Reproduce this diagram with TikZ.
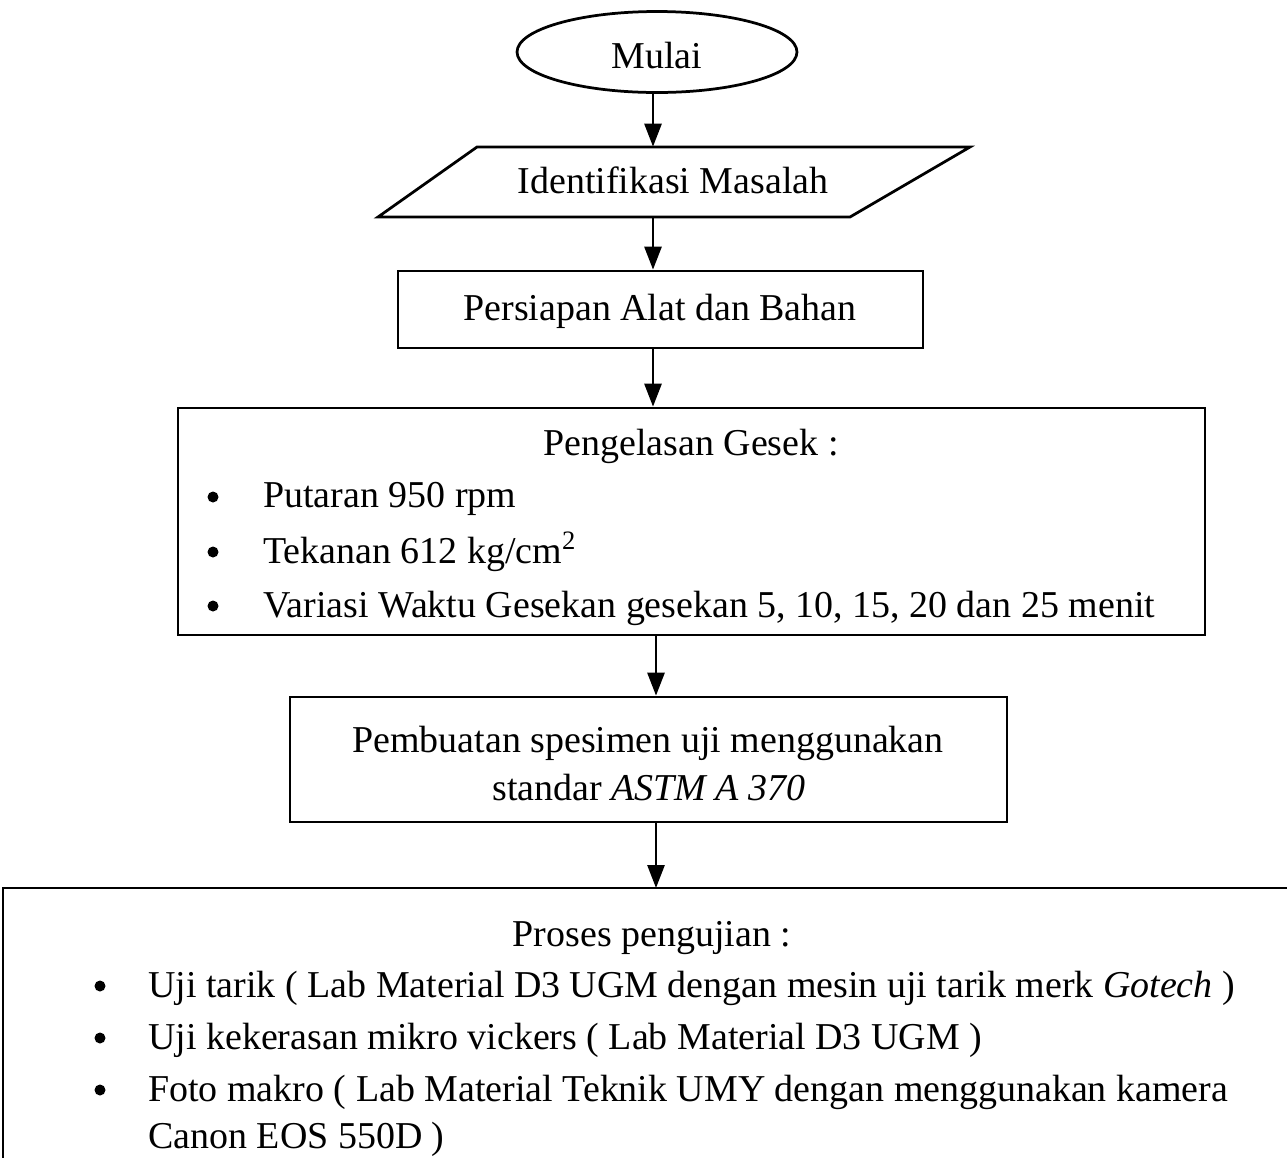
\documentclass[tikz,border=0pt]{standalone}
\usepackage{fontspec}
\setmainfont{Liberation Serif}
\usetikzlibrary{shapes.geometric,arrows.meta}
\tikzset{
  lw/.style={line width=0.055cm},
  flowbox/.style={draw,lw,inner sep=0pt},
  txt/.style={anchor=base,inner sep=0pt,font=\fontsize{21.6}{26}\selectfont},
  ltxt/.style={txt,anchor=base west},
  bul/.style={circle,fill,inner sep=0pt,minimum size=0.22cm},
  arr/.style={lw,-{Triangle[length=0.46cm,width=0.34cm]}}
}
\begin{document}
\begin{tikzpicture}[x=0.02cm,y=-0.02cm]
\clip (0,0) rectangle (1287,1157);
\fill[white] (0,0) rectangle (1287,1157);
% Mulai
\node[flowbox,ellipse,minimum width=5.6cm,minimum height=1.62cm] (mulai) at (657,52) {};
\node[txt] (tmulai) at (657,68) {Mulai};
% Identifikasi (parallelogram)
\node[inner sep=0pt,minimum width=11.84cm,minimum height=1.4cm] (ident) at (674,182) {};
\draw[lw] (378,217) -- (477,147) -- (970,147) -- (850,217) -- cycle;
\node[txt] (tident) at (673,193) {Identifikasi Masalah};
% Persiapan
\node[flowbox,minimum width=10.5cm,minimum height=1.54cm] (persiapan) at (660.5,309.5) {};
\node[txt] (tpersiapan) at (660,320) {Persiapan Alat dan Bahan};
% Pengelasan
\node[flowbox,minimum width=20.54cm,minimum height=4.54cm] (las) at (691.5,521.5) {};
\node[txt] (tlas) at (691,455) {Pengelasan Gesek :};
\node[bul] (b1) at (213,497) {};
\node[ltxt] (l1) at (263,507) {Putaran 950 rpm};
\node[bul] (b2) at (213,552) {};
\node[ltxt] (l2) at (263,563) {Tekanan 612 kg/cm\textsuperscript{2}};
\node[bul] (b3) at (213,606) {};
\node[ltxt] (l3) at (263,617) {Variasi Waktu Gesekan gesekan 5, 10, 15, 20 dan 25 menit};
% Pembuatan
\node[flowbox,minimum width=14.34cm,minimum height=2.5cm] (buat) at (648.5,759.5) {};
\node[txt] (tbuat1) at (648,752) {Pembuatan spesimen uji menggunakan};
\node[txt] (tbuat2) at (649,800) {standar \textit{ASTM A 370}};
% Proses pengujian (cut by the image edge)
\coordinate (ujiBL) at (3,1200);
\coordinate (ujiTL) at (3,888);
\coordinate (ujiTR) at (1320,888);
\draw[lw] (ujiBL) -- (ujiTL) -- (ujiTR);
\node[txt] (tuji) at (652,946) {Proses pengujian :};
\node[bul] (c1) at (100,986) {};
\node[ltxt] (u1) at (148,997) {Uji tarik ( Lab Material D3 UGM dengan mesin uji tarik merk \textit{Gotech} )};
\node[bul] (c2) at (100,1038) {};
\node[ltxt] (u2) at (148,1049) {Uji kekerasan mikro vickers ( Lab Material D3 UGM )};
\node[bul] (c3) at (100,1090) {};
\node[ltxt] (u3) at (148,1101) {Foto makro ( Lab Material Teknik UMY dengan menggunakan kamera};
\node[ltxt] (u4) at (148,1148) {Canon EOS 550D )};
% connectors
\coordinate (a1) at (653,92);
\draw[arr] (a1) -- (a1 |- ident.north);
\coordinate (a2) at (653,217);
\draw[arr] (a2) -- (a2 |- persiapan.north);
\coordinate (a3) at (653,348);
\draw[arr] (a3) -- (a3 |- las.north);
\coordinate (a4) at (656,635);
\draw[arr] (a4) -- (a4 |- buat.north);
\coordinate (a5) at (656,822);
\draw[arr] (a5) -- (a5 |- ujiTL);
\end{tikzpicture}
\end{document}
